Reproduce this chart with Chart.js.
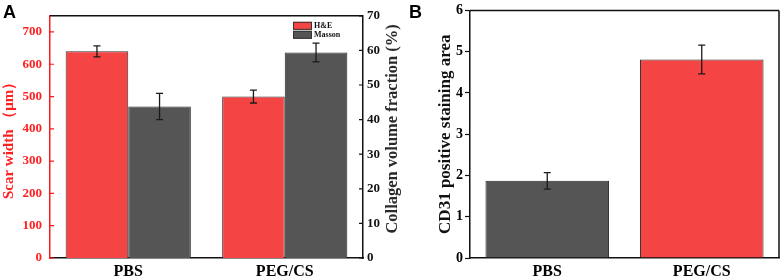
<!DOCTYPE html>
<html><head><meta charset="utf-8">
<script src="https://cdn.jsdelivr.net/npm/chart.js@4/dist/chart.umd.min.js"></script>
<style>
html,body{margin:0;padding:0;background:#fff;width:782px;height:278px;overflow:hidden;position:relative}
#wa{position:absolute;left:0;top:0;width:410px;height:278px}
#wb{position:absolute;left:410px;top:0;width:372px;height:278px}
.lab{position:absolute;font:bold 18px "Liberation Sans",Arial,sans-serif;color:#000;line-height:18px}
</style></head><body>
<div id="wa"><canvas id="ca"></canvas></div>
<div id="wb"><canvas id="cb"></canvas></div>
<div class="lab" style="left:3px;top:3px">A</div>
<div class="lab" style="left:409px;top:3px">B</div>
<script>
// ---- data ----
const categories = ['PBS', 'PEG/CS'];
const heLabel = 'H&E';
const heValues = [640, 500];
const heErrors = [17, 20];
const massonLabel = 'Masson';
const massonValues = [43.8, 59.4];
const massonErrors = [3.8, 2.7];
const cd31Values = [1.87, 4.81];
const cd31Errors = [0.2, 0.35];
const scarTicks = [0, 100, 200, 300, 400, 500, 600, 700];
const collagenTicks = [0, 10, 20, 30, 40, 50, 60, 70];
const cd31Ticks = [0, 1, 2, 3, 4, 5, 6];

const RED = '#f44444';
const DARK = '#555555';
const SERIF = '"Liberation Serif","Times New Roman",serif';

const errorBars = {
  id: 'errorBars',
  afterDatasetsDraw(chart) {
    const ctx = chart.ctx;
    chart.data.datasets.forEach((ds, i) => {
      const meta = chart.getDatasetMeta(i);
      const ys = chart.scales[meta.yAxisID];
      meta.data.forEach((bar, j) => {
        const v = ds.data[j], e = ds.errors[j];
        const t = ys.getPixelForValue(v + e), b = ys.getPixelForValue(v - e);
        ctx.save();
        ctx.strokeStyle = '#1a1a1a';
        ctx.lineWidth = 1.3;
        ctx.beginPath();
        ctx.moveTo(bar.x, t); ctx.lineTo(bar.x, b);
        ctx.moveTo(bar.x - 3.5, t); ctx.lineTo(bar.x + 3.5, t);
        ctx.moveTo(bar.x - 3.5, b); ctx.lineTo(bar.x + 3.5, b);
        ctx.stroke();
        ctx.restore();
      });
    });
  }
};

const frame = {
  id: 'frame',
  afterDraw(chart, args, opts) {
    const {ctx, chartArea: a} = chart;
    ctx.save();
    ctx.strokeStyle = '#111';
    ctx.lineWidth = 1.5;
    ctx.beginPath();
    ctx.moveTo(a.left, a.top); ctx.lineTo(a.right, a.top);
    if (opts.right) { ctx.moveTo(a.right, a.top); ctx.lineTo(a.right, a.bottom); }
    ctx.stroke();
    // inward ticks
    (opts.inward || []).forEach(id => {
      const s = chart.scales[id];
      ctx.strokeStyle = s.options.border.color;
      ctx.lineWidth = 1.2;
      ctx.beginPath();
      s.ticks.forEach(tk => {
        const y = s.getPixelForValue(tk.value);
        if (s.position === 'left') { ctx.moveTo(a.left, y); ctx.lineTo(a.left + 4, y); }
        else { ctx.moveTo(a.right, y); ctx.lineTo(a.right - 4, y); }
      });
      ctx.stroke();
    });
    // right-hand title, read bottom-to-top
    if (opts.rightTitle) {
      const rt = opts.rightTitle;
      const s = chart.scales[rt.scale];
      ctx.save();
      ctx.translate(s.right - rt.inset, (a.top + a.bottom) / 2 + rt.shift);
      ctx.rotate(-Math.PI / 2);
      ctx.font = 'bold ' + rt.size + 'px ' + SERIF;
      ctx.fillStyle = rt.color;
      ctx.textAlign = 'center';
      ctx.textBaseline = 'middle';
      ctx.fillText(rt.text, 0, 0);
      ctx.restore();
    }
    ctx.restore();
  }
};

const legendBox = {
  id: 'legendBox',
  afterDraw(chart) {
    const {ctx, chartArea: a} = chart;
    ctx.save();
    ctx.font = 'bold 8px ' + SERIF;
    ctx.textBaseline = 'middle';
    chart.data.datasets.forEach((ds, i) => {
      const x = a.right - 70, y = a.top + 6 + i * 9;
      ctx.fillStyle = ds.backgroundColor;
      ctx.fillRect(x, y, 19, 8);
      ctx.strokeStyle = '#333'; ctx.lineWidth = 1;
      ctx.strokeRect(x + 0.5, y + 0.5, 18, 7);
      ctx.fillStyle = '#111';
      ctx.fillText(ds.label, x + 21, y + 4.5);
    });
    ctx.restore();
  }
};

function setTicks(arr) { return s => { s.ticks = arr.map(v => ({value: v})); }; }

new Chart(document.getElementById('ca'), {
  type: 'bar',
  data: {
    labels: categories,
    datasets: [
      {label: heLabel, data: heValues, errors: heErrors, yAxisID: 'y', backgroundColor: RED, borderColor: '#333', borderWidth: 1, categoryPercentage: 0.8, barPercentage: 1.0},
      {label: massonLabel, data: massonValues, errors: massonErrors, yAxisID: 'y1', backgroundColor: DARK, borderColor: '#2a2a2a', borderWidth: 1, categoryPercentage: 0.8, barPercentage: 1.0}
    ]
  },
  options: {
    responsive: true, maintainAspectRatio: false, animation: false,
    layout: {padding: {top: 8, left: 0, right: 0, bottom: 0}},
    plugins: {legend: {display: false}, tooltip: {enabled: false},
      frame: {inward: ['y', 'y1'],
        rightTitle: {scale: 'y1', text: 'Collagen volume fraction (%)', size: 16.5, color: '#2a2a2a', inset: 17, shift: -8}}},
    scales: {
      x: {
        grid: {display: false, drawTicks: false},
        border: {display: true, color: '#111', width: 1.5},
        ticks: {color: '#000', padding: 4, font: {family: SERIF, size: 16, weight: 'bold'}},
        afterFit: s => { s.height = 20; }
      },
      y: {
        position: 'left', min: 0, max: 750,
        grid: {display: false, drawTicks: false},
        border: {display: true, color: '#ff1a1a', width: 1.5},
        afterBuildTicks: setTicks(scarTicks),
        ticks: {color: '#ff2020', padding: 8, font: {family: SERIF, size: 13, weight: 'bold'}},
        title: {display: true, text: 'Scar width （μm）', color: '#ff2020', padding: {top: 0, bottom: 0}, font: {family: SERIF, size: 15, weight: 'bold'}},
        afterFit: s => { s.width = 50; }
      },
      y1: {
        position: 'right', min: 0, max: 70,
        grid: {display: false, drawTicks: false},
        border: {display: true, color: '#111', width: 1.5},
        afterBuildTicks: setTicks(collagenTicks),
        ticks: {color: '#111', padding: 4, font: {family: SERIF, size: 13, weight: 'bold'}},
        title: {display: false},
        afterFit: s => { s.width = 47; }
      }
    }
  },
  plugins: [errorBars, frame, legendBox]
});

new Chart(document.getElementById('cb'), {
  type: 'bar',
  data: {
    labels: categories,
    datasets: [
      {label: 'CD31', data: cd31Values, errors: cd31Errors, yAxisID: 'y',
       backgroundColor: [DARK, RED], borderColor: '#2a2a2a', borderWidth: 1, categoryPercentage: 0.8, barPercentage: 1.0}
    ]
  },
  options: {
    responsive: true, maintainAspectRatio: false, animation: false,
    layout: {padding: {top: 8, left: 0, right: 3, bottom: 0}},
    plugins: {legend: {display: false}, tooltip: {enabled: false}, frame: {right: true}},
    scales: {
      x: {
        grid: {display: false, drawTicks: false},
        border: {display: true, color: '#111', width: 1.5},
        ticks: {color: '#000', padding: 4, font: {family: SERIF, size: 16, weight: 'bold'}},
        afterFit: s => { s.height = 20; }
      },
      y: {
        position: 'left', min: 0, max: 6,
        grid: {display: true, drawOnChartArea: false, drawTicks: true, tickLength: 5, color: '#111', tickWidth: 1.2},
        border: {display: true, color: '#111', width: 1.5},
        afterBuildTicks: setTicks(cd31Ticks),
        ticks: {color: '#000', padding: 2, font: {family: SERIF, size: 14, weight: 'bold'}},
        title: {display: true, text: 'CD31 positive staining area', color: '#111', padding: {top: 25, bottom: 0}, font: {family: SERIF, size: 17, weight: 'bold'}},
        afterFit: s => { s.width = 60; }
      }
    }
  },
  plugins: [errorBars, frame]
});
</script>
</body></html>
